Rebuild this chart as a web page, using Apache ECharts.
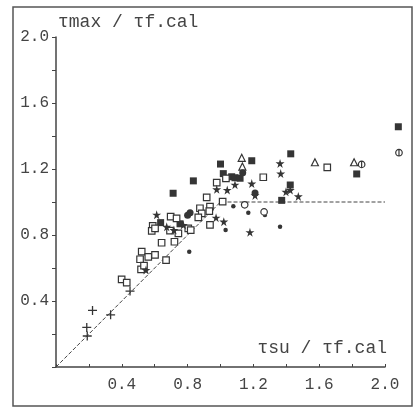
<!DOCTYPE html>
<html>
<head>
	<meta charset="UTF-8">
	<title>τmax / τf.cal</title>
	<script src="https://cdn.jsdelivr.net/npm/echarts@6/dist/echarts.min.js"></script>
	<style>
		html, body { margin: 0; padding: 0; background: #fff; }
		#chart { width: 413px; height: 408px; }
	</style>
</head>
<body>
	<div id="chart"></div>
	<script type="text/javascript">
		// 数据: [τsu/τf.cal, τmax/τf.cal]
		var filledSquares = [
			[2.081, 1.456], [1.427, 1.292], [1.19, 1.25], [1.0, 1.23], [0.835, 1.128],
			[0.712, 1.053], [1.017, 1.172], [1.068, 1.153], [1.088, 1.147], [1.119, 1.144],
			[1.828, 1.17], [1.372, 1.01], [1.424, 1.103], [0.636, 0.875], [0.754, 0.868]
		];
		var openSquares = [
			[1.649, 1.21], [1.26, 1.15], [0.977, 1.117], [1.033, 1.143], [0.916, 1.028],
			[1.013, 1.002], [0.875, 0.962], [0.936, 0.972], [0.932, 0.945], [0.886, 0.931],
			[0.936, 0.861], [0.865, 0.907], [0.697, 0.911], [0.733, 0.901], [0.588, 0.855],
			[0.582, 0.825], [0.602, 0.84], [0.693, 0.826], [0.744, 0.81], [0.804, 0.84],
			[0.819, 0.83], [0.642, 0.753], [0.72, 0.759], [0.521, 0.699], [0.511, 0.653],
			[0.561, 0.668], [0.602, 0.679], [0.517, 0.592], [0.535, 0.614], [0.669, 0.648],
			[0.399, 0.531], [0.43, 0.511]
		];
		var triangles = [[1.129, 1.268], [1.133, 1.215], [1.574, 1.241], [1.812, 1.241]];
		var crossCircles = [[2.085, 1.299], [1.858, 1.228]];
		var stars = [
			[0.612, 0.923], [0.673, 0.85], [0.717, 0.83], [0.977, 1.077], [1.041, 1.073],
			[1.088, 1.105], [1.19, 1.112], [1.362, 1.234], [1.366, 1.172], [1.398, 1.062],
			[1.424, 1.072], [1.473, 1.034], [0.973, 0.905], [1.02, 0.881], [1.179, 0.817],
			[0.547, 0.588], [0.774, 0.861], [1.21, 1.04]
		];
		var bigDots = [[1.21, 1.055], [0.815, 0.935], [1.135, 1.178], [0.8, 0.92]];
		var smallDots = [[0.81, 0.699], [1.031, 0.83], [1.078, 0.975], [1.169, 0.935], [1.27, 0.921], [1.362, 0.85]];
		var openCircles = [[1.147, 0.983], [1.265, 0.94]];
		var crosses = [[0.45, 0.46], [0.332, 0.316], [0.222, 0.343], [0.187, 0.24], [0.19, 0.188]];
		var refLine = [[0, 0], [1, 1], [2.0, 1]];
		var tickLabels = ['0.4', '0.8', '1.2', '1.6', '2.0'];

		var ink = '#353535';
		var font = "'Liberation Mono', 'DejaVu Sans Mono', monospace";
		var starPath = 'path://M50,0L61,35L98,35L68,57L79,91L50,70L21,91L32,57L2,35L39,35Z';
		var crossPath = 'path://M0,10L20,10M10,0L10,20';
		var crossCirclePath = 'path://M10,0A10,10,0,1,1,10,20A10,10,0,1,1,10,0ZM10,0L10,20';

		function fmt(v) {
			var s = v.toFixed(1);
			return tickLabels.indexOf(s) >= 0 ? s : '';
		}

		var myChart = echarts.init(document.getElementById('chart'));

		var axisCommon = {
			type: 'value',
			min: 0,
			max: 2,
			interval: 0.2,
			splitLine: { show: false },
			axisLine: { show: true, lineStyle: { color: '#444', width: 1.5 } }
		};

		var scatter = function (data, symbol, size, fill, bw) {
			return {
				type: 'scatter',
				data: data,
				clip: false,
				symbol: symbol,
				symbolSize: size,
				itemStyle: { color: fill, borderColor: ink, borderWidth: bw, opacity: 1 },
				z: 3
			};
		};

		var option = {
			animation: false,
			backgroundColor: '#fff',
			grid: { left: 56, top: 37, right: 28, bottom: 41 },
			xAxis: Object.assign({}, axisCommon, {
				axisTick: { show: true, inside: true, length: 3, lineStyle: { color: '#444' } },
				axisLabel: { formatter: fmt, color: '#444', fontFamily: font, fontSize: 16, margin: 10 }
			}),
			yAxis: Object.assign({}, axisCommon, {
				name: 'τmax / τf.cal',
				nameLocation: 'end',
				nameGap: 15,
				nameTextStyle: {
					color: '#444', fontFamily: font, fontSize: 18,
					align: 'left', verticalAlign: 'middle', padding: [0, 0, 0, 2]
				},
				axisTick: { show: true, inside: false, length: 4, lineStyle: { color: '#444' } },
				axisLabel: { formatter: fmt, color: '#444', fontFamily: font, fontSize: 16, margin: 7 }
			}),
			graphic: [
				{
					type: 'rect',
					shape: { x: 13, y: 7, width: 399, height: 399 },
					style: { fill: 'none', stroke: '#555', lineWidth: 1.5 }
				},
				{
					type: 'text', x: 387, y: 348,
					style: {
						text: 'τsu / τf.cal', fontFamily: font, fontSize: 18, fill: '#444',
						align: 'right', verticalAlign: 'middle'
					}
				}
			],
			series: [
				{
					type: 'line',
					data: refLine,
					symbol: 'none',
					lineStyle: { color: '#444', width: 1, type: [4, 2] },
					z: 2
				},
				scatter(filledSquares, 'rect', 7, ink, 0),
				scatter(openSquares, 'rect', 6.5, '#fff', 1.2),
				scatter(triangles, 'triangle', 7, '#fff', 1.2),
				scatter(crossCircles, crossCirclePath, 6.5, '#fff', 1.2),
				scatter(stars, starPath, 9, ink, 0),
				scatter(bigDots, 'circle', 7, ink, 0),
				scatter(smallDots, 'circle', 4.5, ink, 0),
				scatter(openCircles, 'circle', 6.5, '#fff', 1.2),
				scatter(crosses, crossPath, 9, 'none', 1.3)
			]
		};

		myChart.setOption(option);
	</script>
</body>
</html>
